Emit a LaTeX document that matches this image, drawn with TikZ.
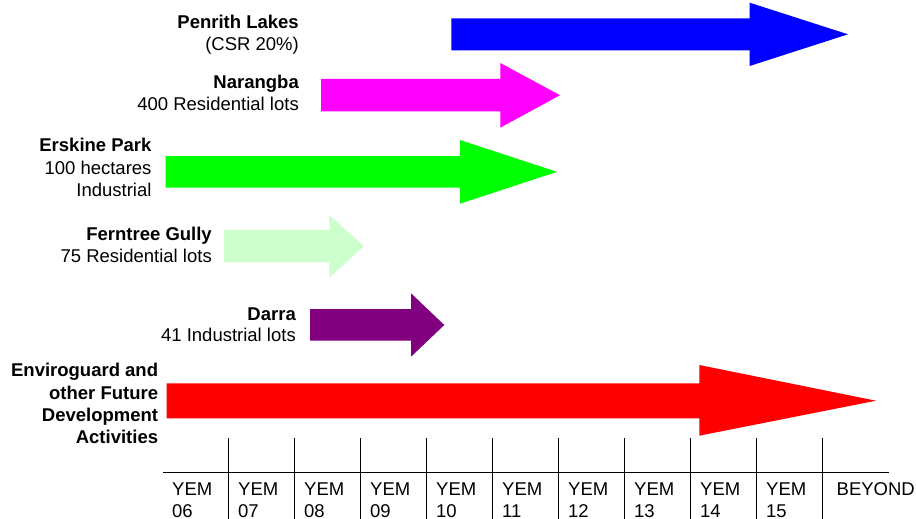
\documentclass[tikz,border=0pt]{standalone}
\usepackage{fontspec}
\setmainfont{Liberation Sans}
\definecolor{cblue}{RGB}{0,0,255}
\definecolor{cmag}{RGB}{255,0,255}
\definecolor{cgreen}{RGB}{0,255,0}
\definecolor{clgreen}{RGB}{204,255,204}
\definecolor{cpurple}{RGB}{128,0,128}
\definecolor{cred}{RGB}{255,0,0}
\newcommand{\blockarrow}[9]{% color, x0, x1, tip, shaft top, shaft bottom, head top, head bottom, center
  \fill[#1] (#2,-#5) -- (#3,-#5) -- (#3,-#7) -- (#4,-#9) -- (#3,-#8) -- (#3,-#6) -- (#2,-#6) -- cycle;}
\begin{document}
\begin{tikzpicture}[x=1pt,y=1pt,
  lbl/.style={inner sep=0pt,anchor=base east,font=\fontsize{18.5}{22}\selectfont},
  lblb/.style={lbl,font=\fontsize{18.5}{22}\selectfont\bfseries},
  yr/.style={inner sep=0pt,anchor=base west,font=\fontsize{18.5}{22}\selectfont},
  axis/.style={line width=1.3pt,black},
  tick/.style={line width=1.2pt,black}]
\useasboundingbox (0,0) rectangle (916,-519);
% arrows
\blockarrow{cblue}{451.3}{749.7}{848}{18.3}{50.3}{2.7}{66}{34.3}
\blockarrow{cmag}{321}{500.3}{560}{79}{111.3}{63}{127.7}{95.2}
\blockarrow{cgreen}{165.7}{460}{557}{156}{187.7}{140}{203.7}{171.8}
\blockarrow{clgreen}{224}{329.3}{364}{230}{262.3}{215}{277.7}{246.2}
\blockarrow{cpurple}{310}{411}{444.3}{309}{340.7}{293.3}{356.7}{325}
\blockarrow{cred}{166.7}{699.3}{876}{383.3}{418.3}{365}{435.7}{400.7}
% labels
\node[lblb] (pen1) at (299,-28.5) {Penrith Lakes};
\node[lbl]  (pen2) at (299,-50.5) {(CSR 20\%)};
\node[lblb] (nar1) at (299,-88.3) {Narangba};
\node[lbl]  (nar2) at (299,-110.7) {400 Residential lots};
\node[lblb] (ers1) at (151.7,-151.7) {Erskine Park};
\node[lbl]  (ers2) at (151.7,-174) {100 hectares};
\node[lbl]  (ers3) at (151.7,-196) {Industrial};
\node[lblb] (fer1) at (212,-240) {Ferntree Gully};
\node[lbl]  (fer2) at (212,-262.3) {75 Residential lots};
\node[lblb] (dar1) at (296,-320) {Darra};
\node[lbl]  (dar2) at (296,-341.7) {41 Industrial lots};
\node[lblb] (env1) at (158.3,-376.7) {Enviroguard and};
\node[lblb] (env2) at (158.3,-399) {other Future};
\node[lblb] (env3) at (158.3,-421) {Development};
\node[lblb] (env4) at (158.3,-443) {Activities};
% timeline
\coordinate (axl) at (163,-472.3);
\coordinate (axr) at (889,-472.3);
\draw[axis] (axl) -- (axr);
\foreach \i in {1,...,10} {
  \coordinate (t\i) at ({162.7+66*\i},-437.7);
  \coordinate (b\i) at ({162.7+66*\i},-519);
  \draw[tick] (t\i) -- (b\i);
}
\foreach \n [count=\i from 0] in {06,07,08,09,10,11,12,13,14,15} {
  \node[yr] (yema\i) at ({172+66*\i},-495.3) {YEM};
  \node[yr] (yemb\i) at ({172+66*\i},-517.7) {\n};
}
\node[yr] (beyond) at (836.5,-495.3) {BEYOND};
\end{tikzpicture}
\end{document}
